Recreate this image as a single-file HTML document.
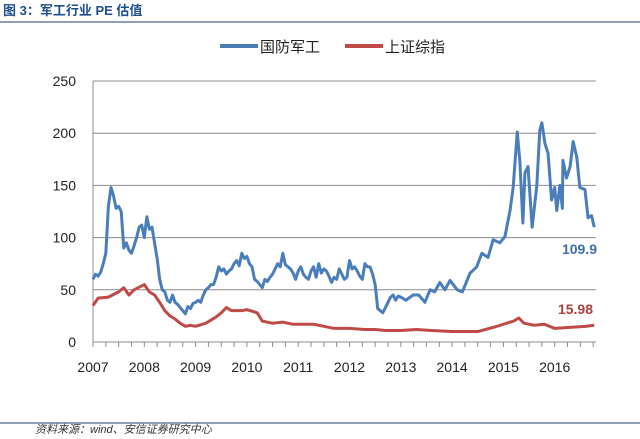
<!DOCTYPE html>
<html><head><meta charset="utf-8"><style>
body{margin:0;background:#fff;width:640px;height:434px;overflow:hidden;font-family:"Liberation Sans","Noto Sans CJK SC",sans-serif}
svg text{font-family:"Liberation Sans","Noto Sans CJK SC",sans-serif}
</style></head><body>
<svg width="640" height="434">
<text x="3" y="15" font-size="13" font-weight="bold" fill="#1f4e8c">图 3：军工行业 PE 估值</text>
<line x1="0" y1="22" x2="640" y2="22" stroke="#1f3f7a" stroke-width="1"/>
<g>
<line x1="220" y1="46" x2="258" y2="46" stroke="#4a7ebb" stroke-width="4"/>
<text x="260" y="52" font-size="15" fill="#222">国防军工</text>
<line x1="345" y1="46" x2="383" y2="46" stroke="#be4b48" stroke-width="4"/>
<text x="385" y="52" font-size="15" fill="#222">上证综指</text>
</g>
<g id="grid"></g><g id="axes"></g><g id="series"></g>
<text x="597" y="254" font-size="14" font-weight="bold" fill="#3f6ea8" text-anchor="end">109.9</text>
<text x="593" y="314" font-size="14" font-weight="bold" fill="#a8403c" text-anchor="end">15.98</text>
<line x1="0" y1="423" x2="640" y2="423" stroke="#1f3f7a" stroke-width="1"/>
<text x="35" y="433" font-size="11" font-style="italic" fill="#333">资料来源：wind、安信证券研究中心</text>
</svg>
<script>
const yTicks=[0,50,100,150,200,250];
const years=[2007,2008,2009,2010,2011,2012,2013,2014,2015,2016];
const defT=[2007,2007.05,2007.1,2007.15,2007.2,2007.25,2007.3,2007.35,2007.4,2007.45,2007.5,2007.55,2007.6,2007.65,2007.7,2007.75,2007.8,2007.85,2007.9,2007.95,2008,2008.05,2008.1,2008.15,2008.2,2008.25,2008.3,2008.35,2008.4,2008.45,2008.5,2008.55,2008.6,2008.65,2008.7,2008.75,2008.8,2008.85,2008.9,2008.95,2009,2009.05,2009.1,2009.15,2009.2,2009.25,2009.3,2009.35,2009.4,2009.45,2009.5,2009.55,2009.6,2009.65,2009.7,2009.75,2009.8,2009.85,2009.9,2009.95,2010,2010.05,2010.1,2010.15,2010.2,2010.25,2010.3,2010.35,2010.4,2010.45,2010.5,2010.55,2010.6,2010.65,2010.7,2010.75,2010.8,2010.85,2010.9,2010.95,2011,2011.05,2011.1,2011.15,2011.2,2011.25,2011.3,2011.35,2011.4,2011.45,2011.5,2011.55,2011.6,2011.65,2011.7,2011.75,2011.8,2011.85,2011.9,2011.95,2012,2012.05,2012.1,2012.15,2012.2,2012.25,2012.3,2012.35,2012.4,2012.45,2012.5,2012.55,2012.6,2012.65,2012.7,2012.75,2012.8,2012.85,2012.9,2012.95,2013,2013.1,2013.24,2013.35,2013.47,2013.57,2013.66,2013.76,2013.86,2013.96,2014.1,2014.2,2014.35,2014.48,2014.58,2014.7,2014.8,2014.93,2015.03,2015.13,2015.19,2015.27,2015.32,2015.38,2015.42,2015.48,2015.56,2015.65,2015.71,2015.75,2015.81,2015.87,2015.94,2016,2016.04,2016.1,2016.15,2016.16,2016.23,2016.3,2016.36,2016.43,2016.49,2016.59,2016.65,2016.72,2016.77];
const defV=[60,65,63,67,75,85,130,148,140,128,130,125,90,95,88,85,92,100,110,112,100,120,108,110,95,80,60,50,48,40,38,45,38,36,33,30,27,34,32,37,38,40,38,45,50,52,55,55,62,72,68,70,65,68,70,75,78,73,85,80,82,75,72,60,58,55,52,60,58,62,65,70,75,72,85,74,72,70,66,60,68,72,65,62,60,68,72,62,75,66,70,68,63,57,62,60,70,65,60,62,78,70,72,68,63,60,75,72,72,65,55,32,30,28,33,38,43,45,40,44,43,40,45,45,38,50,48,57,50,59,50,48,66,72,85,81,98,95,101,126,148,201,174,114,162,168,110,149,203,210,190,181,136,148,126,150,128,174,157,168,192,177,148,146,119,121,110];
const sseT=[2007,2007.1,2007.3,2007.5,2007.6,2007.7,2007.8,2008,2008.1,2008.2,2008.3,2008.4,2008.5,2008.6,2008.7,2008.8,2008.9,2009,2009.2,2009.4,2009.5,2009.6,2009.7,2009.9,2010,2010.2,2010.3,2010.5,2010.7,2010.9,2011,2011.3,2011.5,2011.7,2011.9,2012,2012.3,2012.5,2012.7,2013,2013.3,2013.6,2014,2014.5,2014.8,2015,2015.2,2015.3,2015.4,2015.6,2015.8,2016,2016.3,2016.6,2016.77];
const sseV=[35,42,43,48,52,45,50,55,48,45,38,30,25,22,18,15,16,15,18,24,28,33,30,30,31,28,20,18,19,17,17,17,15,13,13,13,12,12,11,11,12,11,10,10,14,17,20,23,18,16,17,13,14,15,16];
const X0=93,YW=51.3,Y0=342,YS=261/250;
const xs=t=>X0+(t-2007)*YW, ys=v=>Y0-v*YS;
const NS='http://www.w3.org/2000/svg';
function mk(tag,attrs,parent){const e=document.createElementNS(NS,tag);for(const k in attrs)e.setAttribute(k,attrs[k]);document.getElementById(parent).appendChild(e);return e;}
yTicks.forEach(v=>{
 if(v>0){const g=mk('line',{x1:X0,x2:596,y1:ys(v),y2:ys(v),stroke:'#8c8c8c','stroke-width':1},'grid');
 
 }
 const t=mk('text',{x:76,y:ys(v)+5,'font-size':14,'text-anchor':'end',fill:'#222'},'axes');t.textContent=v;
 
 
});
const ax=mk('line',{x1:X0,x2:X0,y1:ys(250),y2:Y0,stroke:'#8c8c8c'},'axes');


const bx=mk('line',{x1:X0,x2:596,y1:Y0,y2:Y0,stroke:'#8c8c8c'},'axes');


for(let m=0;m<=117;m+=3){const x=X0+m/12*YW;const tk=mk('line',{x1:x,x2:x,y1:Y0,y2:Y0+5,stroke:'#8c8c8c'},'axes');
 
 }
years.forEach(y=>{const t=mk('text',{x:xs(y),y:372,'font-size':14,'text-anchor':'middle',fill:'#222'},'axes');t.textContent=y;
 
 });
function line(T,V,c,name){const p=mk('polyline',{points:T.map((t,i)=>xs(t)+','+ys(V[i])).join(' '),fill:'none',stroke:c,'stroke-width':3,'stroke-linejoin':'round'},'series');
 
 }
line(sseT,sseV,'#be4b48','series-sse');
line(defT,defV,'#4a7ebb','series-defense');
</script>
</body></html>
